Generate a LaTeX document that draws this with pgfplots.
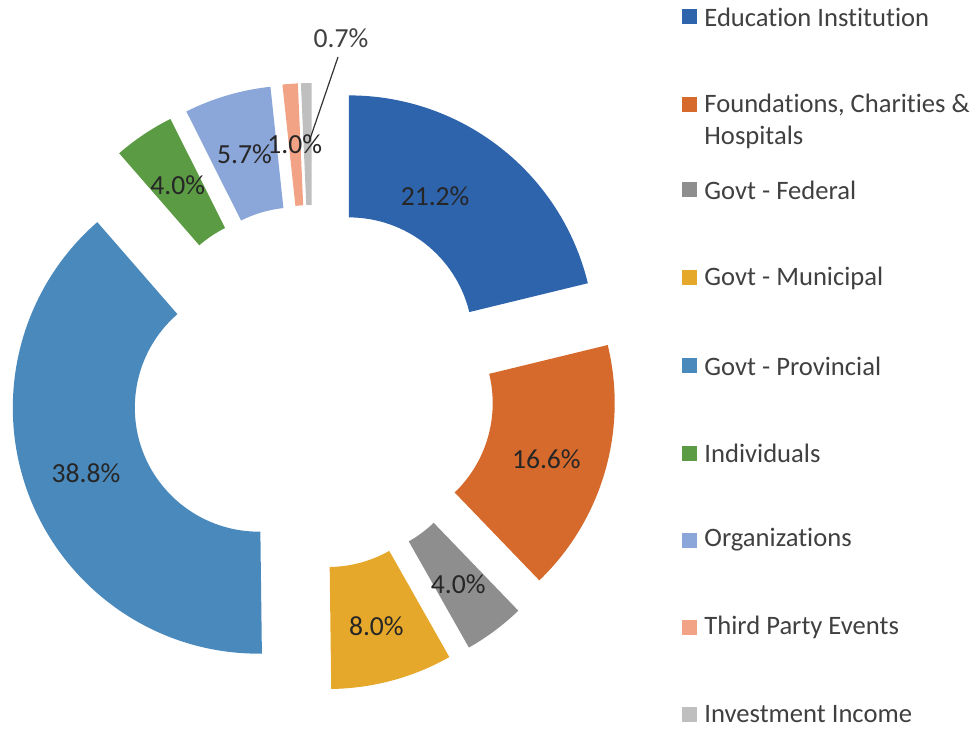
\documentclass[border=0pt]{standalone}
\usepackage{pgfplots}
\pgfplotsset{compat=1.18}
\usepackage{fontspec}
\setmainfont[Ligatures=CommonOff]{Carlito}
\definecolor{cEdu}{HTML}{2E64AC}
\definecolor{cFnd}{HTML}{D66A2C}
\definecolor{cFed}{HTML}{8E8E8E}
\definecolor{cMun}{HTML}{E6A82A}
\definecolor{cPro}{HTML}{4A89BC}
\definecolor{cInd}{HTML}{5B9B43}
\definecolor{cOrg}{HTML}{8BA6D8}
\definecolor{cThp}{HTML}{F2A285}
\definecolor{cInv}{HTML}{BFBFBF}
\definecolor{txt}{HTML}{404040}
% geometry in pixel units (1px = 0.5pt)
\def\CX{313}\def\CY{342}\def\D{58}\def\R{246}\def\r{124}\def\L{185}
\def\Rpt{123pt}\def\rpt{62pt}
\newcommand\geom[3]{% #1 start (%), #2 value (%), #3 label radius
  \pgfmathsetmacro\sa{90-3.6*#1}%
  \pgfmathsetmacro\ea{90-3.6*(#1+#2)}%
  \pgfmathsetmacro\ma{(\sa+\ea)/2}%
  \pgfmathsetmacro\cx{\CX+\D*cos(\ma)}%
  \pgfmathsetmacro\cy{\CY+\D*sin(\ma)}%
  \pgfmathsetmacro\ox{\cx+\R*cos(\sa)}%
  \pgfmathsetmacro\oy{\cy+\R*sin(\sa)}%
  \pgfmathsetmacro\ix{\cx+\r*cos(\ea)}%
  \pgfmathsetmacro\iy{\cy+\r*sin(\ea)}%
  \pgfmathsetmacro\lx{\cx+#3*cos(\ma)}%
  \pgfmathsetmacro\ly{\cy+#3*sin(\ma)}}
% #1 start, #2 value, #3 colour
\newcommand\slice[3]{%
  \geom{#1}{#2}{\L}%
  \edef\tmp{\noexpand\fill[#3] (axis cs:\ox,\oy) arc[start angle=\sa, end angle=\ea, radius=\Rpt]
     -- (axis cs:\ix,\iy) arc[start angle=\ea, end angle=\sa, radius=\rpt] -- cycle;}%
  \tmp}
% #1 start, #2 value, #3 label, #4/#5 shift (px)
\newcommand\slicelabel[5]{%
  \geom{#1}{#2}{\L}%
  \pgfmathsetmacro\lx{\lx+#4}\pgfmathsetmacro\ly{\ly+#5}%
  \edef\tmp{\noexpand\node[lbl] at (axis cs:\lx,\ly) {\unexpanded{#3}};}%
  \tmp}
\newcommand\legentry[3]{% y (px from top), colour, text
  \pgfmathsetmacro\ly{729-#1}%
  \edef\tmp{\noexpand\fill[#2] (axis cs:682,\ly-7.5) rectangle (axis cs:697,\ly+7.5);
    \noexpand\node[leg] at (axis cs:704,\ly) {\unexpanded{#3}};}%
  \tmp}
\begin{document}
\begin{tikzpicture}[
  lbl/.style={font=\fontsize{13.8}{16}\selectfont, text=black!85, inner sep=0pt},
  leg/.style={font=\fontsize{13.3}{16}\selectfont, text=txt, anchor=west, inner sep=0pt}]
\begin{axis}[x=0.5pt, y=0.5pt, xmin=0, xmax=979, ymin=0, ymax=729,
  hide axis, clip=false]
\slice{0}{21.2}{cEdu}
\slice{21.2}{16.6}{cFnd}
\slice{37.8}{4.0}{cFed}
\slice{41.8}{8.0}{cMun}
\slice{49.8}{38.8}{cPro}
\slice{88.6}{4.0}{cInd}
\slice{92.6}{5.7}{cOrg}
\slice{98.3}{1.0}{cThp}
\slice{99.3}{0.7}{cInv}
\draw[black!80, line width=0.6pt] (axis cs:338,672) -- (axis cs:310,590);
\slicelabel{0}{21.2}{21.2\%}{-28}{0}
\slicelabel{21.2}{16.6}{16.6\%}{0}{-4}
\slicelabel{37.8}{4.0}{4.0\%}{0}{-2}
\slicelabel{41.8}{8.0}{8.0\%}{0}{-5}
\slicelabel{49.8}{38.8}{38.8\%}{0}{0}
\slicelabel{88.6}{4.0}{4.0\%}{0}{0}
\slicelabel{92.6}{5.7}{5.7\%}{0}{0}
\slicelabel{98.3}{1.0}{1.0\%}{0}{0}
\node[lbl, text=txt] at (axis cs:341,691) {0.7\%};
\legentry{17}{cEdu}{Education Institution}
\legentry{105}{cFnd}{Foundations, Charities \&}
\node[leg] at (axis cs:704,{729-137}) {Hospitals};
\legentry{190}{cFed}{Govt - Federal}
\legentry{278}{cMun}{Govt - Municipal}
\legentry{366}{cPro}{Govt - Provincial}
\legentry{453}{cInd}{Individuals}
\legentry{540}{cOrg}{Organizations}
\legentry{627}{cThp}{Third Party Events}
\legentry{714}{cInv}{Investment Income}
\end{axis}
\pgfresetboundingbox
\path[use as bounding box] (0,0) rectangle (489.5pt,364.5pt);
\end{tikzpicture}
\end{document}
